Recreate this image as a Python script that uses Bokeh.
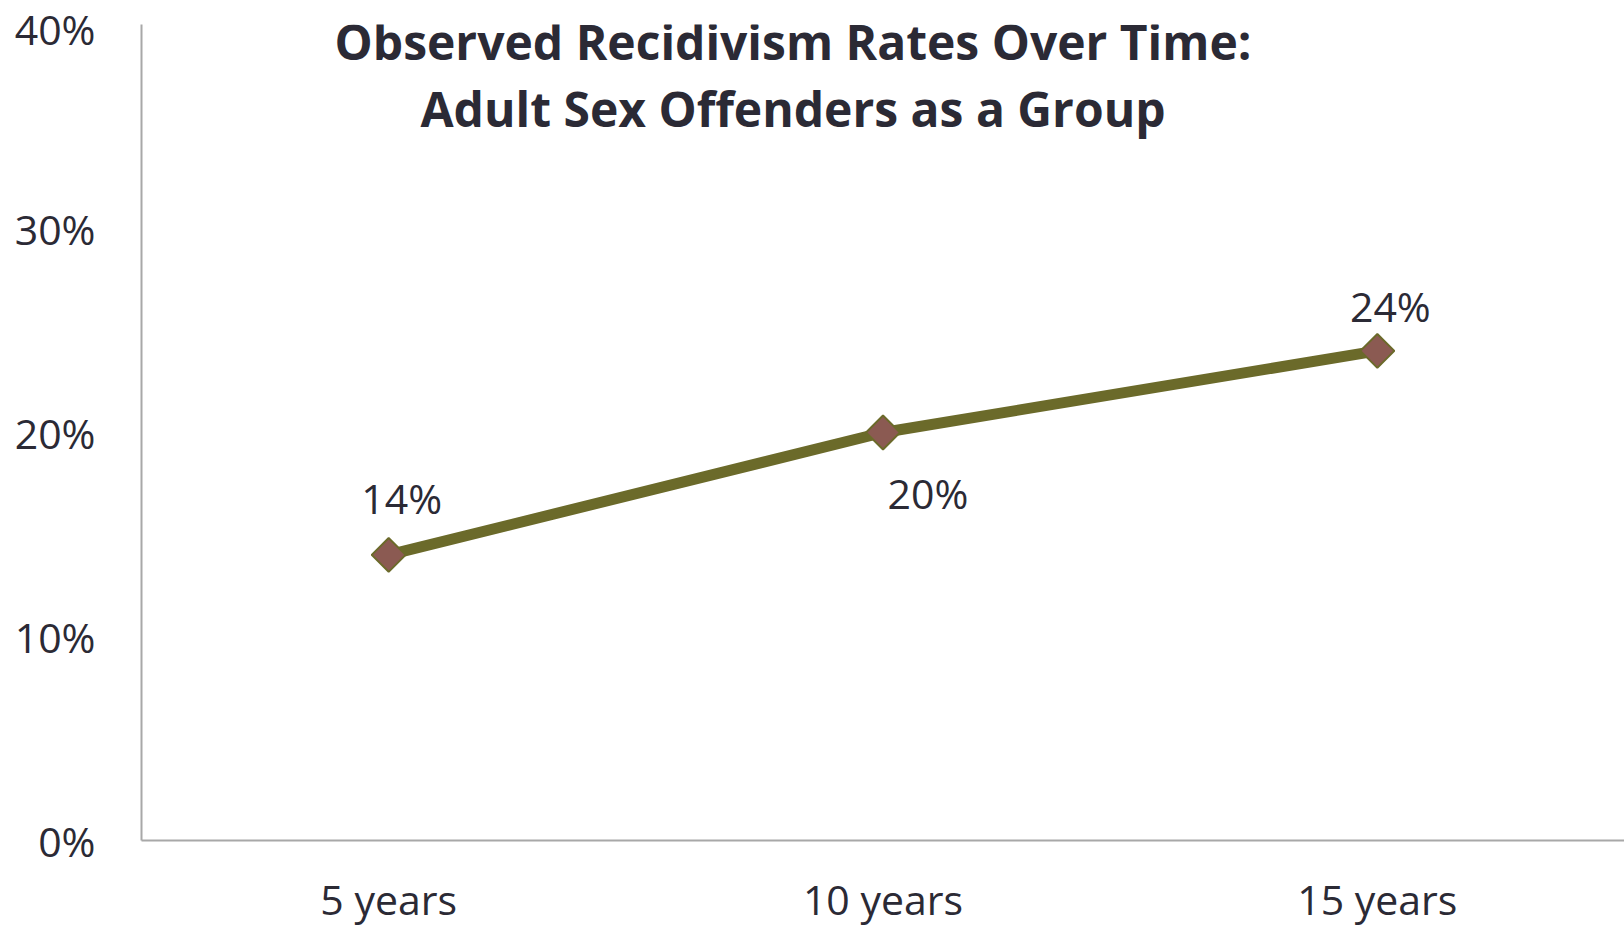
import math

from bokeh.core.properties import value
from bokeh.embed import file_html
from bokeh.models import ColumnDataSource, FactorRange, FixedTicker, Label, Range1d
from bokeh.plotting import figure
from bokeh.resources import INLINE

# Observed recidivism rate (%) by follow-up period
periods = ["5 years", "10 years", "15 years"]
rates = [14, 20, 24]
rate_labels = ["14%", "20%", "24%"]

y_ticks = [0, 10, 20, 30, 40]
y_tick_labels = ["0%", "10%", "20%", "30%", "40%"]

title_lines = ["Observed Recidivism Rates Over Time:", "Adult Sex Offenders as a Group"]

# placement of the value labels relative to their points (pixels, +y is down)
label_dx = [13, 45, 13]
label_dy = [-57, 60, -45]

FONT = "Open Sans"
TEXT = "#2B2A35"
OLIVE = "#6B6A2A"
MARKER_FILL = "#8B5A52"
AXIS = "#A8A8A8"

p = figure(
    width=1624, height=929,
    x_range=FactorRange(*periods, range_padding=0),
    y_range=Range1d(0, 40),
    output_backend="svg", toolbar_location=None,
    min_border_left=141, min_border_right=0,
    min_border_top=24, min_border_bottom=89,
)
p.outline_line_color = None
p.xgrid.visible = False
p.ygrid.visible = False
p.background_fill_color = "white"
p.border_fill_color = "white"

for ax in (p.xaxis[0], p.yaxis[0]):
    ax.axis_line_color = AXIS
    ax.axis_line_width = 2
    ax.major_tick_line_color = None
    ax.minor_tick_line_color = None
    ax.major_label_text_font = FONT
    ax.major_label_text_font_size = "41px"
    ax.major_label_text_color = TEXT

p.yaxis.ticker = FixedTicker(ticks=y_ticks)
p.yaxis.major_label_overrides = dict(zip(y_ticks, y_tick_labels))
p.yaxis.major_label_standoff = 40
p.xaxis.major_label_standoff = 24

src = ColumnDataSource(dict(x=periods, y=rates, text=rate_labels, dx=label_dx, dy=label_dy))

p.line("x", "y", source=src, line_color=OLIVE, line_width=11)
p.scatter("x", "y", source=src, marker="square", size=24, angle=math.pi / 4,
          fill_color=MARKER_FILL, line_color=OLIVE, line_width=2)
p.text("x", "y", text="text", source=src, x_offset="dx", y_offset="dy",
       text_font=value(FONT), text_font_size="41px", text_color=TEXT,
       text_align="center", text_baseline="middle")

for line, y in zip(title_lines, [39.15, 35.9]):
    p.add_layout(Label(x=1.5, y=y, x_offset=-90, text=line, text_font=FONT,
                       text_font_size="48px", text_font_style="bold", text_color=TEXT,
                       text_align="center", text_baseline="middle"))

open("out.html", "w").write(file_html(p, INLINE))
